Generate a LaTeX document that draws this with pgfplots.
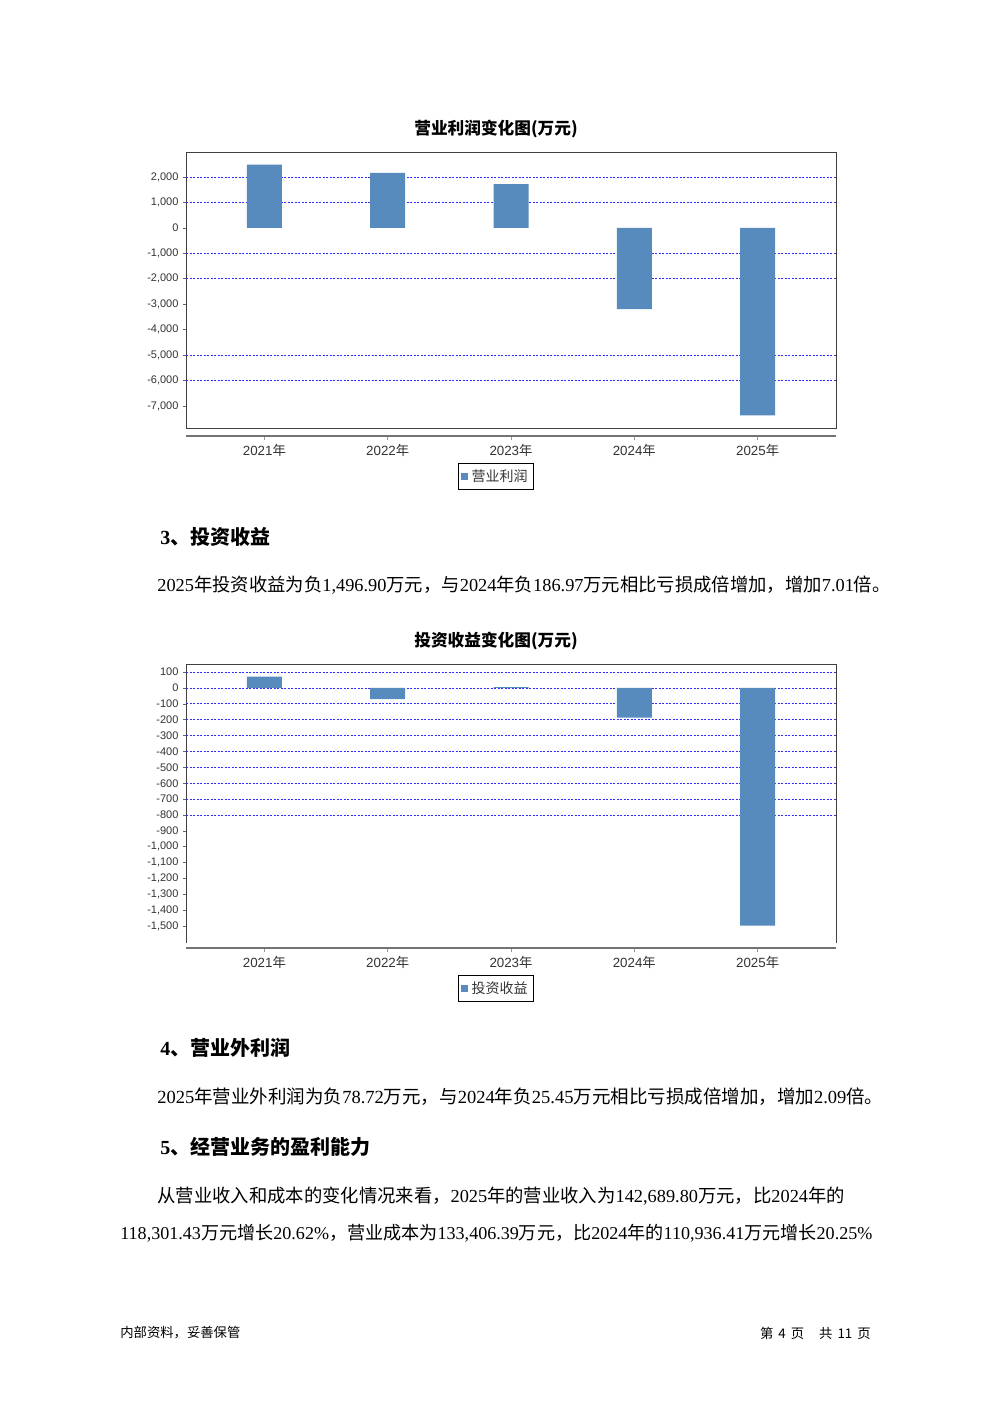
\documentclass[border=0pt]{standalone}
\usepackage{pgfplots}
\pgfplotsset{compat=1.18}
\usepackage{fontspec}
\setmainfont{Liberation Serif}
\newfontfamily\cjk{Noto Sans CJK SC}
\newfontfamily\tickfont{Liberation Sans}
\newcommand\C[1]{{\cjk #1}}
\definecolor{barblue}{RGB}{87,138,189}
\definecolor{gridblue}{RGB}{45,45,255}
\pgfplotsset{
  chartbox/.style={
    scale only axis, anchor=south west, width=390pt,
    xmin=-0.636, xmax=4.636, xtick=\empty,
    ytick pos=left, tick align=outside, major tick length=2pt,
    /pgf/number format/assume math mode=true,
    /pgf/number format/1000 sep={,},
    yticklabel style={font=\tickfont\fontsize{6.6}{7}\selectfont, text=black!80, xshift=1pt},
    axis line style={black!75, line width=0.6pt},
    y tick style={black!60, line width=0.4pt},
    extra y tick labels={},
    extra y tick style={ymajorgrids=true, major tick length=0pt},
    major grid style={gridblue, dash pattern=on 1.2pt off 0.9pt, line width=0.55pt},
    ybar, bar width=21pt,
    legend style={at={(0.5,0)}, anchor=north, xshift=-9pt, draw=black, line width=0.8pt,
      font=\cjk\fontsize{8.4}{9}\selectfont, text=black!80, inner sep=1.4pt,
      /tikz/every even column/.append style={column sep=1pt}},
    legend image code/.code={\fill[barblue] (0pt,-2.3pt) rectangle (4.4pt,2.3pt);},
  },
  catline/.style={
    scale only axis, anchor=south west, width=390pt, height=1pt,
    xmin=-0.636, xmax=4.636, ymin=0, ymax=1,
    axis y line=none, axis x line=bottom,
    axis line style={black!55, line width=0.9pt, -},
    xtick={0,1,2,3,4},
    xticklabels={2021\C{年},2022\C{年},2023\C{年},2024\C{年},2025\C{年}},
    x tick label style={font=\tickfont\fontsize{8}{9}\selectfont, text=black!80, yshift=1pt},
    tick align=outside, major tick length=2.5pt,
    x tick style={black!40, line width=0.5pt},
  },
}
\begin{document}
\begin{tikzpicture}
\begin{scope}[x=0.6pt,y=-0.6pt]
\fill[white] (0,0) rectangle (992,1403);
% chart titles
\node[inner sep=0] at (496,129) {\cjk\bfseries\fontsize{10}{12}\selectfont 营业利润变化图(万元)};
\node[inner sep=0] at (496,641) {\cjk\bfseries\fontsize{10}{12}\selectfont 投资收益变化图(万元)};
% headings
\node[anchor=west, inner sep=0] at (160,537) {\fontsize{12}{14}\selectfont\bfseries 3\C{、投资收益}};
\node[anchor=west, inner sep=0] at (160,1048) {\fontsize{12}{14}\selectfont\bfseries 4\C{、营业外利润}};
\node[anchor=west, inner sep=0] at (160,1147) {\fontsize{12}{14}\selectfont\bfseries 5\C{、经营业务的盈利能力}};
% body
\node[anchor=west, inner sep=0] at (157,585) {\fontsize{11}{12}\selectfont 2025\C{年投资收益为负}1,496.90\C{万元，与}2024\C{年负}186.97\C{万元相比亏损成倍增加，增加}7.01\C{倍。}};
\node[anchor=west, inner sep=0] at (157,1097) {\fontsize{11.1}{12}\selectfont 2025\C{年营业外利润为负}78.72\C{万元，与}2024\C{年负}25.45\C{万元相比亏损成倍增加，增加}2.09\C{倍。}};
\node[anchor=west, inner sep=0] at (157,1196) {\fontsize{11}{12}\selectfont \C{从营业收入和成本的变化情况来看，}2025\C{年的营业收入为}142,689.80\C{万元，比}2024\C{年的}};
\node[anchor=west, inner sep=0] at (120,1233) {\fontsize{10.85}{12}\selectfont 118,301.43\C{万元增长}20.62\%\C{，营业成本为}133,406.39\C{万元，比}2024\C{年的}110,936.41\C{万元增长}20.25\%};
% footer
\node[anchor=west, inner sep=0] at (120,1333) {\cjk\fontsize{8}{9}\selectfont 内部资料，妥善保管};
\node[anchor=east, inner sep=0] at (871,1333) {\cjk\fontsize{8}{9}\selectfont 第\hspace{3pt}4\hspace{3pt}页\hspace{9pt}共\hspace{3pt}11\hspace{3pt}页};
\end{scope}

% ---------- chart 1 ----------
\begin{axis}[chartbox,
  at={(186*0.6pt,-428*0.6pt)}, height=165pt,
  ymin=-7870, ymax=2950,
  ytick={-7000,-6000,-5000,-4000,-3000,-2000,-1000,0,1000,2000},
  extra y ticks={2000,1000,-1000,-2000,-5000,-6000},
  legend style={yshift=-21pt},
]
\addplot[fill=barblue, draw=none] coordinates {(0,2490) (1,2170) (2,1730) (3,-3190) (4,-7370)};
\legend{营业利润}
\end{axis}
\begin{axis}[catline, at={(186*0.6pt,-436*0.6pt)}]
\end{axis}

% ---------- chart 2 ----------
\begin{axis}[chartbox,
  at={(186*0.6pt,-943*0.6pt)}, height=167.4pt,
  axis x line=top, axis y line=box, axis line style={-},
  ymin=-1606, ymax=151,
  ytick={-1500,-1400,...,100},
  extra y ticks={100,0,-100,-200,-300,-400,-500,-600,-700,-800},
  legend style={yshift=-19.2pt},
]
\addplot[fill=barblue, draw=none] coordinates {(0,71) (1,-70) (2,5) (3,-186.97) (4,-1496.90)};
\legend{投资收益}
\end{axis}
\begin{axis}[catline, at={(186*0.6pt,-948*0.6pt)}]
\end{axis}
\end{tikzpicture}
\end{document}
